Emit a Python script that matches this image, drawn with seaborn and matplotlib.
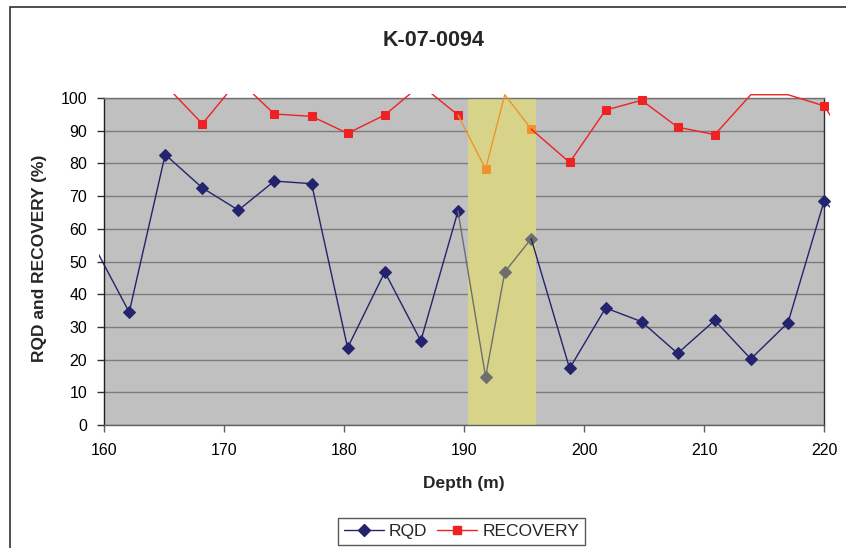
import numpy as np
import pandas as pd
import matplotlib
matplotlib.use("Agg")
import matplotlib.pyplot as plt
import seaborn as sns
from matplotlib.lines import Line2D
from matplotlib.patches import Rectangle
from matplotlib.transforms import Bbox, TransformedBbox

# data (first and last points lie just outside the axis range)
depth = [159.0, 162.1, 165.1, 168.2, 171.2, 174.2, 177.3, 180.3, 183.4, 186.4, 189.5, 191.8,
         193.4, 195.6, 198.8, 201.8, 204.8, 207.8, 210.9, 213.9, 217.0, 220.0, 223.0]
rqd = [56.0, 34.5, 82.7, 72.5, 65.7, 74.6, 73.8, 23.6, 46.8, 25.7, 65.4, 14.7,
       46.8, 57.0, 17.3, 35.8, 31.6, 21.9, 32.0, 20.2, 31.3, 68.4, 58.0]
recovery = [102.0, 103.0, 104.0, 92.1, 105.5, 95.1, 94.4, 89.2, 94.8, 104.0, 94.8, 78.3,
            101.0, 90.5, 80.3, 96.3, 99.3, 91.1, 88.8, 101.0, 101.0, 97.6, 81.0]
zone = (190.36, 196.0)   # highlighted depth interval
hl_first, hl_last = 10, 13  # segments 189.5 -> 195.6 are drawn in the highlight colour

title = "K-07-0094"
x_ticks = [160, 170, 180, 190, 200, 210, 220]
y_ticks = list(range(0, 101, 10))

navy = "#23236e"
red = "#ee2222"
orange = "#f0922f"
grey_hl = "#6e6e6e"

df = pd.DataFrame({"depth": depth, "rqd": rqd, "recovery": recovery})

sns.set_theme(style="ticks")
plt.rcParams["font.family"] = ["Liberation Sans", "DejaVu Sans"]

fig = plt.figure(figsize=(8.46, 5.48), dpi=100)
ax = fig.add_axes([104 / 846, 1 - 425 / 548, 720 / 846, 327 / 548])
ax.set_facecolor("#c0c0c0")
ax.set_axisbelow(True)
ax.yaxis.grid(True, color="#7c7c7c", linewidth=1.0)
ax.xaxis.grid(False)

ax.axvspan(zone[0], zone[1], color="#d7d48a", zorder=1, linewidth=0)

clip = TransformedBbox(Bbox([[-0.007, -0.02], [1.008, 1.0125]]), ax.transAxes)


def seg(col, i0, i1, color, mk, ms, show):
    part = df.iloc[i0:i1 + 1]
    vals = part[col].values
    mask = [bool(s) and v <= 100 for s, v in zip(show, vals)]
    sns.lineplot(data=part, x="depth", y=col, ax=ax, color=color, linewidth=1.0,
                 marker=mk, markersize=ms, markeredgecolor=color, markevery=mask,
                 sort=False, estimator=None, zorder=3)
    ln = ax.lines[-1]
    ln.set_clip_path(None)
    ln.set_clip_box(clip)


n = len(depth)
for col, c_main, c_hl, mk, ms in [("recovery", red, orange, "s", 5.4),
                                  ("rqd", navy, grey_hl, "D", 5.8)]:
    seg(col, 0, hl_first, c_main, mk, ms, [True] * (hl_first + 1))
    seg(col, hl_first, hl_last, c_hl, mk, ms, [False] + [True] * (hl_last - hl_first))
    seg(col, hl_last, n - 1, c_main, mk, ms, [False] + [True] * (n - 1 - hl_last))

ax.set_xlim(160, 220)
ax.set_ylim(0, 100)
ax.set_xticks(x_ticks)
ax.set_yticks(y_ticks)
ax.set_xlabel("")
ax.set_ylabel("")
ax.tick_params(axis="both", labelsize=11.5, colors="#000000", length=5, width=1.0)
ax.tick_params(axis="x", pad=8, color="#606060")
ax.tick_params(axis="y", pad=7, color="#303030")
for side, c in [("left", "#202020"), ("right", "#303030"), ("top", "#707070"), ("bottom", "#606060")]:
    ax.spines[side].set_visible(True)
    ax.spines[side].set_color(c)
    ax.spines[side].set_linewidth(1.0)

fig.text(434 / 846, 1 - 40 / 548, title, ha="center", va="center", fontsize=15.5, fontweight="bold")
fig.text(39.5 / 846, 1 - 258 / 548, "RQD and RECOVERY (%)", rotation=90, ha="center", va="center",
         fontsize=12.5, fontweight="bold")
fig.text(463.8 / 846, 1 - 483.8 / 548, "Depth (m)", ha="center", va="center",
         fontsize=12.5, fontweight="bold")

handles = [Line2D([], [], color=navy, lw=1.0, marker="D", markersize=5.8, markeredgecolor=navy),
           Line2D([], [], color=red, lw=1.0, marker="s", markersize=5.4, markeredgecolor=red)]
leg = fig.legend(handles, ["RQD", "RECOVERY"], loc="center", ncol=2,
                 bbox_to_anchor=(461.5 / 846, 16.5 / 548), frameon=True, fancybox=False,
                 fontsize=12.5, handlelength=2.3, columnspacing=0.55, handletextpad=0.3,
                 borderpad=0.35, borderaxespad=0)
leg.get_frame().set_edgecolor("#303030")
leg.get_frame().set_linewidth(1.0)

# outer chart frame (extends past the right and bottom edges of the image)
fig.add_artist(Rectangle((10 / 846, -0.1), 1.2, 1.1 - 7 / 548, transform=fig.transFigure,
                         fill=False, edgecolor="#303030", linewidth=1.2, clip_on=False))

fig.savefig("out.png", dpi=100)
